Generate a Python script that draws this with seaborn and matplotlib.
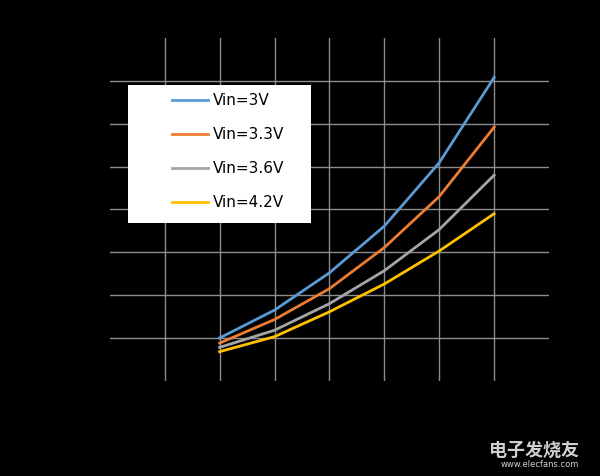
import matplotlib
matplotlib.use('Agg')
import matplotlib.pyplot as plt
from matplotlib.patches import Rectangle
import seaborn as sns
import pandas as pd

# Values
x_vals = [2, 3, 4, 5, 6, 7]
vin_3v = [1.00, 1.65, 2.52, 3.61, 5.09, 7.08]
vin_33v = [0.88, 1.43, 2.15, 3.11, 4.30, 5.92]
vin_36v = [0.78, 1.18, 1.80, 2.57, 3.53, 4.80]
vin_42v = [0.68, 1.03, 1.61, 2.26, 3.03, 3.90]
labels = ['Vin=3V', 'Vin=3.3V', 'Vin=3.6V', 'Vin=4.2V']
colors = ['#5B9BD5', '#ED7D31', '#A5A5A5', '#FFC000']

rows = []
for lab, ys in zip(labels, [vin_3v, vin_33v, vin_36v, vin_42v]):
    for x, y in zip(x_vals, ys):
        rows.append({'x': x, 'y': y, 'series': lab})
df = pd.DataFrame(rows)

fig = plt.figure(figsize=(6, 4.76), dpi=100, facecolor='black')
ax = fig.add_axes([0.183, 0.2, 0.732, 0.72])
ax.set_facecolor('black')

sns.lineplot(data=df, x='x', y='y', hue='series', palette=colors,
             linewidth=2, ax=ax)

ax.set_xlim(0, 8)
ax.set_ylim(0, 8)
ax.set_xticks(range(1, 8))
ax.set_yticks(range(1, 8))
ax.grid(True, color='#8c8c8c', linewidth=1)
ax.set_axisbelow(True)
ax.tick_params(length=0, labelcolor='black')
for s in ax.spines.values():
    s.set_visible(False)
ax.set_xlabel('')
ax.set_ylabel('')

# white legend box
ax.add_patch(Rectangle((0.041, 0.461), 0.417, 0.402, transform=ax.transAxes,
                       facecolor='white', edgecolor='none', zorder=4))
leg = ax.legend(loc='upper left', bbox_to_anchor=(0.141, 0.84), frameon=False,
                labelspacing=1.25, borderpad=0, handlelength=2.4, handletextpad=0.3,
                borderaxespad=0, fontsize=11)
leg.set_zorder(5)
for t in leg.get_texts():
    t.set_color('black')

fig.text(0.965, 0.055, '电子发烧友', color='#d0d0d0', fontsize=13,
         fontfamily='Noto Sans CJK SC', ha='right', va='center', fontweight='bold')
fig.text(0.965, 0.025, 'www.elecfans.com', color='#d0d0d0', fontsize=6,
         ha='right', va='center')

fig.savefig('out.png', facecolor='black')
